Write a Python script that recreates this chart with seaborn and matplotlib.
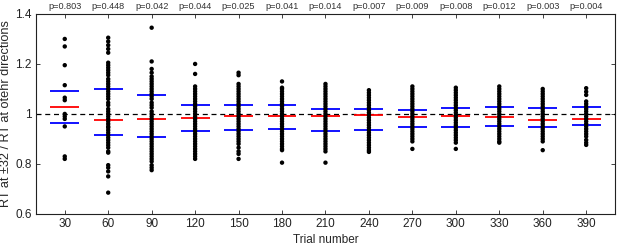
import pandas as pd
import seaborn as sns
import matplotlib
matplotlib.use("Agg")
import matplotlib.pyplot as plt

# trial bins and p-values written above the panel
trial_nums = [30, 60, 90, 120, 150, 180, 210, 240, 270, 300, 330, 360, 390]
p_values = ["0.803", "0.448", "0.042", "0.044", "0.025", "0.041", "0.014",
            "0.007", "0.009", "0.008", "0.012", "0.003", "0.004"]

# red (centre) and blue (spread) bars
center_vals = [1.027, 0.977, 0.981, 0.984, 0.992, 0.992, 0.993,
               0.995, 0.989, 0.991, 0.988, 0.976, 0.979]
lower_vals = [0.963, 0.916, 0.909, 0.931, 0.935, 0.940, 0.932,
              0.936, 0.949, 0.947, 0.951, 0.947, 0.956]
upper_vals = [1.092, 1.100, 1.076, 1.035, 1.037, 1.036, 1.021,
              1.020, 1.017, 1.025, 1.027, 1.023, 1.027]

# individual subjects, RT ratio per bin
rt_30 = [1.30, 1.27, 1.195, 1.115, 1.065, 1.055, 1.00, 0.99, 0.98, 0.95, 0.83, 0.82]
rt_60 = [1.305, 1.29, 1.275, 1.26, 1.245, 1.205, 1.195, 1.185, 1.175, 1.165,
         1.155, 1.14, 1.13, 1.12, 1.11, 1.10, 1.09, 1.08, 1.07, 1.06, 1.045,
         1.035, 1.02, 1.01, 1.00, 0.99, 0.98, 0.97, 0.96, 0.95, 0.945, 0.935,
         0.925, 0.915, 0.905, 0.895, 0.885, 0.875, 0.865, 0.85, 0.845, 0.795,
         0.785, 0.77, 0.75, 0.685]
rt_90 = [1.345, 1.21, 1.18, 1.165, 1.15, 1.14, 1.13, 1.12, 1.11, 1.10, 1.09,
         1.08, 1.07, 1.06, 1.045, 1.035, 1.025, 1.01, 1.00, 0.99, 0.98, 0.97,
         0.96, 0.95, 0.94, 0.93, 0.92, 0.91, 0.90, 0.89, 0.88, 0.87, 0.86,
         0.85, 0.84, 0.83, 0.82, 0.81, 0.795, 0.785, 0.775]
rt_120 = [1.20, 1.16, 1.11, 1.10, 1.09, 1.08, 1.07, 1.06, 1.05, 1.04, 1.03,
          1.02, 1.01, 1.00, 0.99, 0.98, 0.97, 0.96, 0.95, 0.94, 0.93, 0.92,
          0.91, 0.90, 0.89, 0.88, 0.87, 0.86, 0.85, 0.84, 0.83, 0.82]
rt_150 = [1.165, 1.155, 1.12, 1.11, 1.10, 1.09, 1.08, 1.07, 1.06, 1.05, 1.04,
          1.03, 1.02, 1.01, 1.00, 0.99, 0.98, 0.97, 0.96, 0.95, 0.94, 0.93,
          0.92, 0.91, 0.90, 0.89, 0.88, 0.865, 0.85, 0.84, 0.82]
rt_180 = [1.13, 1.105, 1.10, 1.09, 1.08, 1.07, 1.06, 1.05, 1.04, 1.03, 1.02,
          1.01, 1.00, 0.99, 0.98, 0.97, 0.96, 0.95, 0.94, 0.93, 0.92, 0.91,
          0.90, 0.89, 0.88, 0.87, 0.86, 0.855, 0.805]
rt_210 = [1.12, 1.11, 1.10, 1.09, 1.08, 1.07, 1.06, 1.05, 1.04, 1.03, 1.02,
          1.01, 1.00, 0.99, 0.98, 0.97, 0.96, 0.95, 0.94, 0.93, 0.92, 0.91,
          0.90, 0.89, 0.88, 0.87, 0.86, 0.85, 0.805]
rt_240 = [1.095, 1.085, 1.075, 1.065, 1.055, 1.045, 1.035, 1.025, 1.015,
          1.005, 0.995, 0.985, 0.975, 0.965, 0.955, 0.945, 0.935, 0.925,
          0.915, 0.905, 0.895, 0.885, 0.875, 0.865, 0.855, 0.848]
rt_270 = [1.11, 1.10, 1.09, 1.08, 1.07, 1.06, 1.05, 1.04, 1.03, 1.02, 1.01,
          1.00, 0.99, 0.98, 0.97, 0.96, 0.95, 0.94, 0.93, 0.92, 0.91, 0.90,
          0.89, 0.86]
rt_300 = [1.105, 1.095, 1.085, 1.075, 1.065, 1.055, 1.045, 1.035, 1.025,
          1.015, 1.005, 0.995, 0.985, 0.975, 0.965, 0.955, 0.945, 0.935,
          0.925, 0.915, 0.905, 0.895, 0.885, 0.86]
rt_330 = [1.11, 1.10, 1.09, 1.08, 1.07, 1.06, 1.05, 1.04, 1.03, 1.02, 1.01,
          1.00, 0.99, 0.98, 0.97, 0.96, 0.95, 0.94, 0.93, 0.92, 0.91, 0.90,
          0.89, 0.885]
rt_360 = [1.10, 1.09, 1.08, 1.07, 1.06, 1.05, 1.04, 1.03, 1.02, 1.01, 1.00,
          0.99, 0.98, 0.97, 0.96, 0.95, 0.94, 0.93, 0.92, 0.91, 0.90, 0.89,
          0.855]
rt_390 = [1.103, 1.089, 1.076, 1.05, 1.04, 1.03, 1.02, 1.01, 1.00, 0.99,
          0.98, 0.97, 0.96, 0.95, 0.94, 0.93, 0.92, 0.91, 0.896, 0.885, 0.876]

rt_lists = [rt_30, rt_60, rt_90, rt_120, rt_150, rt_180, rt_210,
            rt_240, rt_270, rt_300, rt_330, rt_360, rt_390]

rows = []
for trial, vals in zip(trial_nums, rt_lists):
    for v in vals:
        rows.append({"trial": trial, "ratio": v})
df = pd.DataFrame(rows)

sns.set_style("ticks")
plt.rcParams["font.family"] = ["Liberation Sans", "DejaVu Sans"]
plt.rcParams["font.size"] = 8.5

fig, ax = plt.subplots(figsize=[6.17, 2.45], dpi=100)
fig.subplots_adjust(left=0.058, right=0.997, bottom=0.127, top=0.943)

half_w = 10
x_left = [t - half_w for t in trial_nums]
x_right = [t + half_w for t in trial_nums]
ax.hlines(upper_vals, x_left, x_right, color="#0000ff", lw=1.3, zorder=2)
ax.hlines(lower_vals, x_left, x_right, color="#0000ff", lw=1.3, zorder=2)
ax.hlines(center_vals, x_left, x_right, color="#ff0000", lw=1.3, zorder=2)

ax.plot([10, 410], [1, 1], "k--", lw=0.9, dashes=(4, 3), zorder=1)

sns.scatterplot(data=df, x="trial", y="ratio", color="k", s=10,
                edgecolor="none", legend=False, ax=ax, zorder=3)

for trial, p in zip(trial_nums, p_values):
    ax.text(trial, 1.035, "p=" + p, transform=ax.get_xaxis_transform(),
            ha="center", va="center", fontsize=6.6, color="#333333")

ax.set_xlim(10, 410)
ax.set_ylim(0.6, 1.4)
ax.set_xticks(trial_nums)
ax.set_yticks([0.6, 0.8, 1.0, 1.2, 1.4])
ax.set_yticklabels(["0.6", "0.8", "1", "1.2", "1.4"])
ax.tick_params(direction="in", top=True, right=True, length=3, width=0.6,
               labelsize=8.5, pad=3, colors="#222222")
for sp in ax.spines.values():
    sp.set_linewidth(0.8)
    sp.set_color("#222222")
ax.set_xlabel("Trial number", labelpad=3, fontsize=8.5)
ax.set_ylabel("RT at \u00b132 / RT at otehr directions", labelpad=2, fontsize=9.2)

plt.savefig("out.png", dpi=100)
